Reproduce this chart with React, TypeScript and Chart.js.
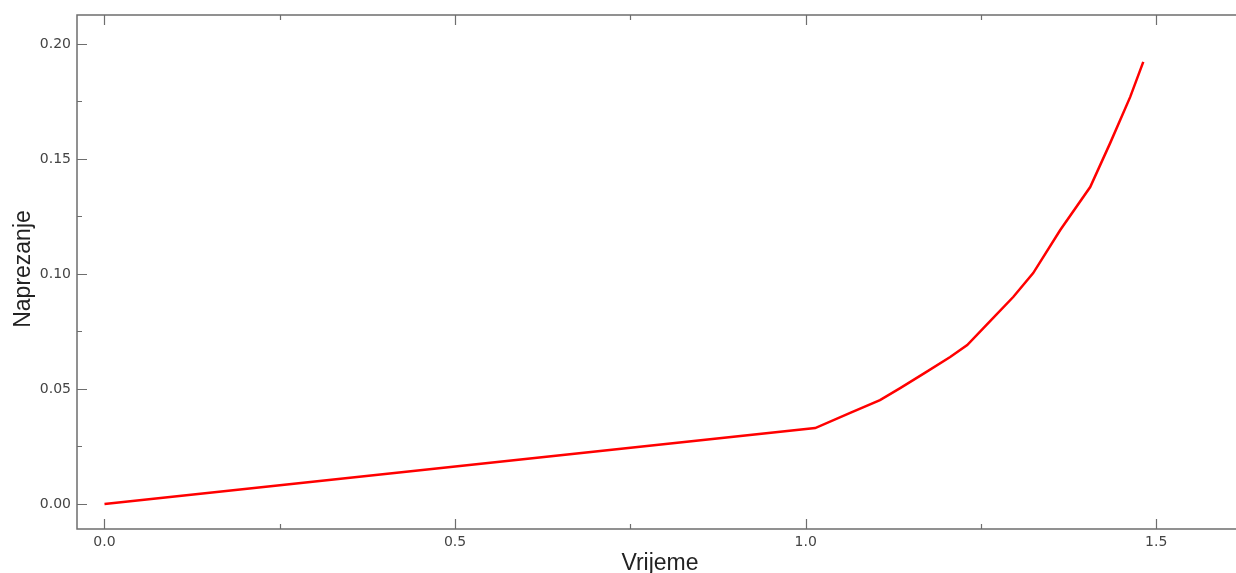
import React, { useEffect, useRef } from "react";
import { Chart, registerables } from "chart.js";

Chart.register(...registerables);

// Data (time vs. stress)
const timeValues = [0, 1.0136, 1.0635, 1.106, 1.1348, 1.17, 1.2061, 1.2304, 1.2675, 1.296, 1.3245, 1.3631, 1.4058, 1.4344, 1.4629, 1.4815];
const stressValues = [0, 0.033, 0.0396, 0.0452, 0.0504, 0.057, 0.0639, 0.0691, 0.0809, 0.09, 0.1004, 0.1191, 0.1378, 0.157, 0.177, 0.1922];

const xMajorTicks = [0, 0.5, 1.0, 1.5];
const xMinorTicks = [0.25, 0.75, 1.25];
const yMajorTicks = [0, 0.05, 0.1, 0.15, 0.2];
const yMinorTicks = [0.025, 0.075, 0.125, 0.175];

const xTitle = "Vrijeme";
const yTitle = "Naprezanje";

const AXIS_COLOR = "#6e6e6e";

const framePlugin = {
  id: "framePlugin",
  afterDraw(chart: any) {
    const { ctx, chartArea } = chart;
    const { left, right, top, bottom } = chartArea;
    const xs = chart.scales.x;
    const ys = chart.scales.y;
    ctx.save();
    ctx.strokeStyle = AXIS_COLOR;
    ctx.lineWidth = 1.5;
    ctx.beginPath();
    ctx.rect(left, top, right - left, bottom - top);
    ctx.stroke();
    ctx.lineWidth = 1.2;
    const tick = (vals: number[], len: number) => {
      vals.forEach((v) => {
        const px = Math.round(xs.getPixelForValue(v)) + 0.5;
        ctx.beginPath();
        ctx.moveTo(px, bottom);
        ctx.lineTo(px, bottom - len);
        ctx.moveTo(px, top);
        ctx.lineTo(px, top + len);
        ctx.stroke();
      });
    };
    const ytick = (vals: number[], len: number) => {
      vals.forEach((v) => {
        const py = Math.round(ys.getPixelForValue(v)) + 0.5;
        ctx.beginPath();
        ctx.moveTo(left, py);
        ctx.lineTo(left + len, py);
        ctx.moveTo(right, py);
        ctx.lineTo(right - len, py);
        ctx.stroke();
      });
    };
    tick(xMajorTicks, 10);
    tick(xMinorTicks, 5);
    ytick(yMajorTicks, 10);
    ytick(yMinorTicks, 5);

    // Axis titles
    ctx.fillStyle = "#222";
    ctx.font = "23px 'Liberation Sans', Arial, sans-serif";
    ctx.textAlign = "center";
    ctx.textBaseline = "alphabetic";
    ctx.fillText(xTitle, 660, 570);
    ctx.save();
    ctx.translate(30, 269);
    ctx.rotate(-Math.PI / 2);
    ctx.fillText(yTitle, 0, 0);
    ctx.restore();
    ctx.restore();
  },
};

export default function App() {
  const canvasRef = useRef<HTMLCanvasElement | null>(null);

  useEffect(() => {
    if (!canvasRef.current) return;
    const chart = new Chart(canvasRef.current, {
      type: "line",
      data: {
        datasets: [
          {
            data: timeValues.map((t, i) => ({ x: t, y: stressValues[i] })),
            borderColor: "#ff0000",
            borderWidth: 2.5,
            pointRadius: 0,
            tension: 0,
            fill: false,
          },
        ],
      },
      options: {
        responsive: false,
        animation: false,
        layout: { padding: { top: 15, right: 2, left: 0, bottom: 0 } },
        plugins: {
          legend: { display: false },
          tooltip: { enabled: false },
        },
        scales: {
          x: {
            type: "linear",
            min: -0.0392,
            max: 1.628,
            grid: { display: false },
            border: { display: false },
            afterBuildTicks: (scale: any) => {
              scale.ticks = xMajorTicks.map((v) => ({ value: v }));
            },
            afterFit: (scale: any) => {
              scale.height = 44;
            },
            ticks: {
              padding: -3,
              color: "#444",
              font: { family: "'DejaVu Sans', Verdana, sans-serif", size: 14 },
              maxRotation: 0,
              callback: (v: any) => Number(v).toFixed(1),
            },
          },
          y: {
            type: "linear",
            min: -0.01087,
            max: 0.2126,
            grid: { display: false },
            border: { display: false },
            afterBuildTicks: (scale: any) => {
              scale.ticks = yMajorTicks.map((v) => ({ value: v }));
            },
            afterFit: (scale: any) => {
              scale.width = 77;
            },
            ticks: {
              padding: -2,
              color: "#444",
              font: { family: "'DejaVu Sans', Verdana, sans-serif", size: 14 },
              callback: (v: any) => Number(v).toFixed(2),
            },
          },
        },
      },
      plugins: [framePlugin],
    });
    return () => chart.destroy();
  }, []);

  return (
    <div
      style={{
        position: "absolute",
        left: 0,
        top: 0,
        width: 1236,
        height: 573,
        overflow: "hidden",
        background: "#fff",
      }}
    >
      <canvas ref={canvasRef} width={1248} height={573} style={{ width: 1248, height: 573, display: "block" }} />
    </div>
  );
}
